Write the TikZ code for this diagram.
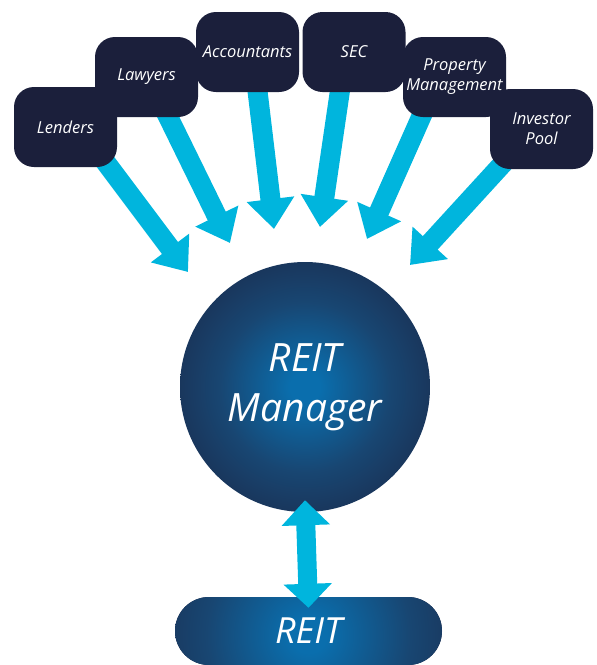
\documentclass[tikz,border=0pt]{standalone}
\usepackage{fontspec}
\setmainfont{Open Sans}
\usetikzlibrary{positioning, arrows.meta, backgrounds}
\definecolor{navy}{HTML}{1B1F3B}
\definecolor{flowcyan}{HTML}{00B5DD}
\definecolor{glowin}{HTML}{0A6EAD}
\definecolor{glowmid}{HTML}{184672}
\definecolor{glowout}{HTML}{1B2240}
\pgfdeclareradialshading{glow}{\pgfpoint{0bp}{0bp}}{color(0bp)=(glowin); color(3bp)=(glowin); color(17bp)=(glowmid); color(36bp)=(glowout); color(50bp)=(glowout)}
\tikzset{party/.style={minimum width=103pt, minimum height=80pt, inner sep=0pt, rounded corners=20pt, fill=navy, text=white, align=center, font=\fontsize{16.5}{20}\selectfont\itshape}}
\tikzset{flow/.style={draw=flowcyan, line width=20pt, -{Triangle[length=30pt, width=46pt]}}}
\tikzset{link/.style={draw=flowcyan, line width=19pt, {Triangle[length=25pt, width=47pt]}-{Triangle[length=24pt, width=47pt]}}}
\begin{document}
\begin{tikzpicture}[x=1pt, y=-1pt]
				\useasboundingbox (0,0) rectangle (597,665);
				% outside parties
				\node[party] (lenders) at (65.5,127) {Lenders};
				\node[party] (lawyers) at (146.5,77) {Lawyers};
				\node[party] (accountants) at (247.5,52) {Accountants};
				\node[party] (sec) at (354,52) {SEC};
				\node[party] (propmgmt) at (454.5,77) {Property\\Management};
				\node[party] (investors) at (541.5,129) {Investor\\Pool};
				%
				\node[circle, minimum size=250pt, inner sep=0pt, shading=glow, text=white, align=center,
					font=\fontsize{39}{50}\selectfont\itshape] (manager) at (305,387) {REIT\\Manager};
				\node[minimum width=267pt, minimum height=68pt, rounded corners=34pt, fill=glowout, text=white,
					font=\fontsize{36}{40}\selectfont\itshape,
					path picture={\shade[shading=glow] ([yshift=-4pt]path picture bounding box.center) circle (150pt);}] (reit) at (308.5,631) {REIT};
				%
				\coordinate (tipLenders) at (188,272);
				\coordinate (tipLawyers) at (230,243);
				\coordinate (tipAccountants) at (274,229);
				\coordinate (tipSec) at (320,227);
				\coordinate (tipPropmgmt) at (367,239);
				\coordinate (tipInvestors) at (410,265);
				\begin{scope}[on background layer]
					\draw[flow] ([shift={(26.5,17)}]lenders.center) -- (tipLenders);
					\draw[flow] ([shift={(9.5,15)}]lawyers.center) -- (tipLawyers);
					\draw[flow] ([shift={(7.5,18)}]accountants.center) -- (tipAccountants);
					\draw[flow] ([shift={(-11,18)}]sec.center) -- (tipSec);
					\draw[flow] ([shift={(-24.5,20)}]propmgmt.center) -- (tipPropmgmt);
					\draw[flow] ([shift={(-23.5,18)}]investors.center) -- (tipInvestors);
				\end{scope}
				%
				\draw[link] ([yshift=12pt]manager.south) -- ([yshift=-11pt]reit.north);
			\end{tikzpicture}
\end{document}
